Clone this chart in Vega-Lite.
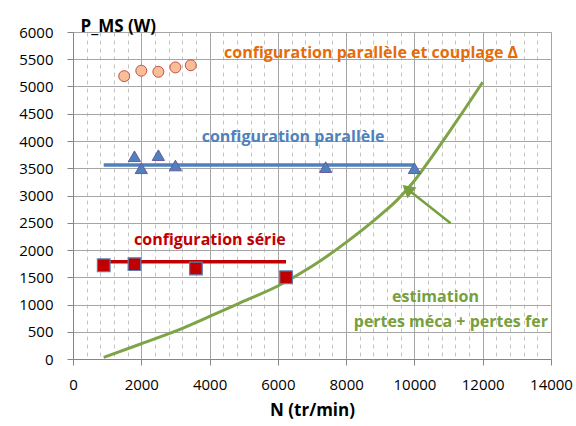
{
  "$schema": "https://vega.github.io/schema/vega-lite/v6.json",
  "width": 478,
  "height": 327,
  "autosize": {"type": "none"},
  "padding": {"left": 73, "top": 32, "right": 25, "bottom": 67},
  "config": {"font": "Open Sans", "view": {"stroke": "#a6a6a6", "strokeWidth": 1}},
  "datasets": {
    "estimation": [
      {"N": 900, "P": 30}, {"N": 2000, "P": 280}, {"N": 3000, "P": 510}, {"N": 4000, "P": 780},
      {"N": 5000, "P": 1060}, {"N": 6000, "P": 1340}, {"N": 7000, "P": 1700}, {"N": 8000, "P": 2140},
      {"N": 9000, "P": 2640}, {"N": 9500, "P": 2920}, {"N": 10000, "P": 3270}, {"N": 10500, "P": 3700},
      {"N": 11000, "P": 4150}, {"N": 11500, "P": 4610}, {"N": 12000, "P": 5080}
    ],
    "couplage": [
      {"N": 1500, "P": 5190}, {"N": 2000, "P": 5290}, {"N": 2500, "P": 5270}, {"N": 3000, "P": 5350}, {"N": 3450, "P": 5390}
    ],
    "parallele": [
      {"N": 1800, "P": 3720}, {"N": 2000, "P": 3500}, {"N": 2500, "P": 3740}, {"N": 3000, "P": 3550}, {"N": 7400, "P": 3520}, {"N": 10000, "P": 3500}
    ],
    "serie": [
      {"N": 900, "P": 1720}, {"N": 1800, "P": 1740}, {"N": 3600, "P": 1660}, {"N": 6240, "P": 1500}
    ],
    "moyennes": [
      {"groupe": "parallèle", "N0": 900, "N1": 10000, "P": 3560},
      {"groupe": "série", "N0": 900, "N1": 6240, "P": 1785}
    ],
    "fleche": [{"N0": 11060, "P0": 2490, "N1": 9790, "P1": 3120}],
    "etiquettes": [
      {"texte": "configuration parallèle et couplage Δ", "groupe": "couplage", "N": 8730, "P": 5615},
      {"texte": "configuration parallèle", "groupe": "parallèle", "N": 6447, "P": 4079},
      {"texte": "configuration série", "groupe": "série", "N": 4010, "P": 2183},
      {"texte": "estimation", "groupe": "estimation", "N": 10618, "P": 1143},
      {"texte": "pertes méca + pertes fer", "groupe": "estimation", "N": 11066, "P": 684}
    ]
  },
  "layer": [
    {
      "data": {"name": "estimation"},
      "mark": {"type": "line", "interpolate": "monotone", "color": "#7EA447", "strokeWidth": 3},
      "encoding": {
        "x": {"field": "N", "type": "quantitative", "scale": {"domain": [0, 14000], "nice": false},
          "axis": {"orient": "bottom", "values": [400, 800, 1200, 1600, 2400, 2800, 3200, 3600, 4400, 4800, 5200, 5600, 6400, 6800, 7200, 7600, 8400, 8800, 9200, 9600, 10400, 10800, 11200, 11600, 12400, 12800, 13200, 13600],
            "grid": true, "gridColor": "#c4c4c4", "gridDash": [4, 4], "gridWidth": 1, "labels": false, "ticks": false, "domain": false, "title": null}},
        "y": {"field": "P", "type": "quantitative", "scale": {"domain": [0, 6000], "nice": false},
          "axis": {"orient": "left", "values": [0, 500, 1000, 1500, 2000, 2500, 3000, 3500, 4000, 4500, 5000, 5500, 6000], "format": "d", "labelOverlap": false, "labelFlush": false,
            "title": "P_MS (W)", "titleAngle": 0, "titleX": 7, "titleY": -1, "titleAlign": "left", "titleBaseline": "alphabetic",
            "titleFontSize": 17, "titleFontWeight": "bold", "titleColor": "#000000",
            "labelFontSize": 15, "labelColor": "#000000", "labelPadding": 14, "tickSize": 6, "tickColor": "#868686",
            "domainColor": "#868686", "grid": true, "gridColor": "#a6a6a6"}}
      }
    },
    {
      "data": {"name": "moyennes"},
      "mark": {"type": "rule", "strokeWidth": 3.5},
      "encoding": {
        "x": {"field": "N0", "type": "quantitative",
          "axis": {"orient": "bottom", "values": [0, 2000, 4000, 6000, 8000, 10000, 12000, 14000], "format": "d", "labelOverlap": false, "labelFlush": false,
            "title": "N (tr/min)", "titleFontSize": 17, "titleFontWeight": "bold", "titleColor": "#000000", "titlePadding": 10,
            "labelFontSize": 15, "labelColor": "#000000", "labelPadding": 12, "tickSize": 6, "tickColor": "#868686",
            "domainColor": "#868686", "grid": true, "gridColor": "#a6a6a6"}},
        "x2": {"field": "N1"},
        "y": {"field": "P", "type": "quantitative", "axis": null},
        "color": {"field": "groupe", "type": "nominal", "legend": null,
          "scale": {"domain": ["couplage", "parallèle", "série", "estimation"], "range": ["#E46C0A", "#4F81BD", "#C00000", "#77A03C"]}}
      }
    },
    {
      "data": {"name": "couplage"},
      "mark": {"type": "point", "shape": "circle", "filled": true, "fill": "#F9BE95", "stroke": "#C0504D", "strokeWidth": 1, "size": 120, "opacity": 1},
      "encoding": {
        "x": {"field": "N", "type": "quantitative", "axis": null},
        "y": {"field": "P", "type": "quantitative", "axis": null}
      }
    },
    {
      "data": {"name": "parallele"},
      "mark": {"type": "point", "shape": "triangle-up", "filled": true, "fill": "#4F81BD", "stroke": "#6A5A9E", "strokeWidth": 1, "size": 150, "opacity": 1},
      "encoding": {
        "x": {"field": "N", "type": "quantitative", "axis": null},
        "y": {"field": "P", "type": "quantitative", "axis": null}
      }
    },
    {
      "data": {"name": "serie"},
      "mark": {"type": "point", "shape": "square", "filled": true, "fill": "#C00000", "stroke": "#5B7DB1", "strokeWidth": 1.2, "size": 160, "opacity": 1},
      "encoding": {
        "x": {"field": "N", "type": "quantitative", "axis": null},
        "y": {"field": "P", "type": "quantitative", "axis": null}
      }
    },
    {
      "data": {"name": "fleche"},
      "mark": {"type": "rule", "color": "#77A03C", "strokeWidth": 2.5},
      "encoding": {
        "x": {"field": "N0", "type": "quantitative", "axis": null},
        "y": {"field": "P0", "type": "quantitative", "axis": null},
        "x2": {"field": "N1"},
        "y2": {"field": "P1"}
      }
    },
    {
      "data": {"name": "fleche"},
      "mark": {"type": "point", "shape": "triangle-up", "filled": true, "color": "#77A03C", "size": 200, "angle": 310, "opacity": 1},
      "encoding": {
        "x": {"field": "N1", "type": "quantitative", "axis": null},
        "y": {"field": "P1", "type": "quantitative", "axis": null}
      }
    },
    {
      "data": {"name": "etiquettes"},
      "mark": {"type": "text", "fontSize": 16, "fontWeight": "bold", "align": "center", "baseline": "middle"},
      "encoding": {
        "x": {"field": "N", "type": "quantitative", "axis": null},
        "y": {"field": "P", "type": "quantitative", "axis": null},
        "text": {"field": "texte"},
        "color": {"field": "groupe", "type": "nominal", "legend": null}
      }
    }
  ],
  "resolve": {"axis": {"x": "independent", "y": "independent"}}
}
